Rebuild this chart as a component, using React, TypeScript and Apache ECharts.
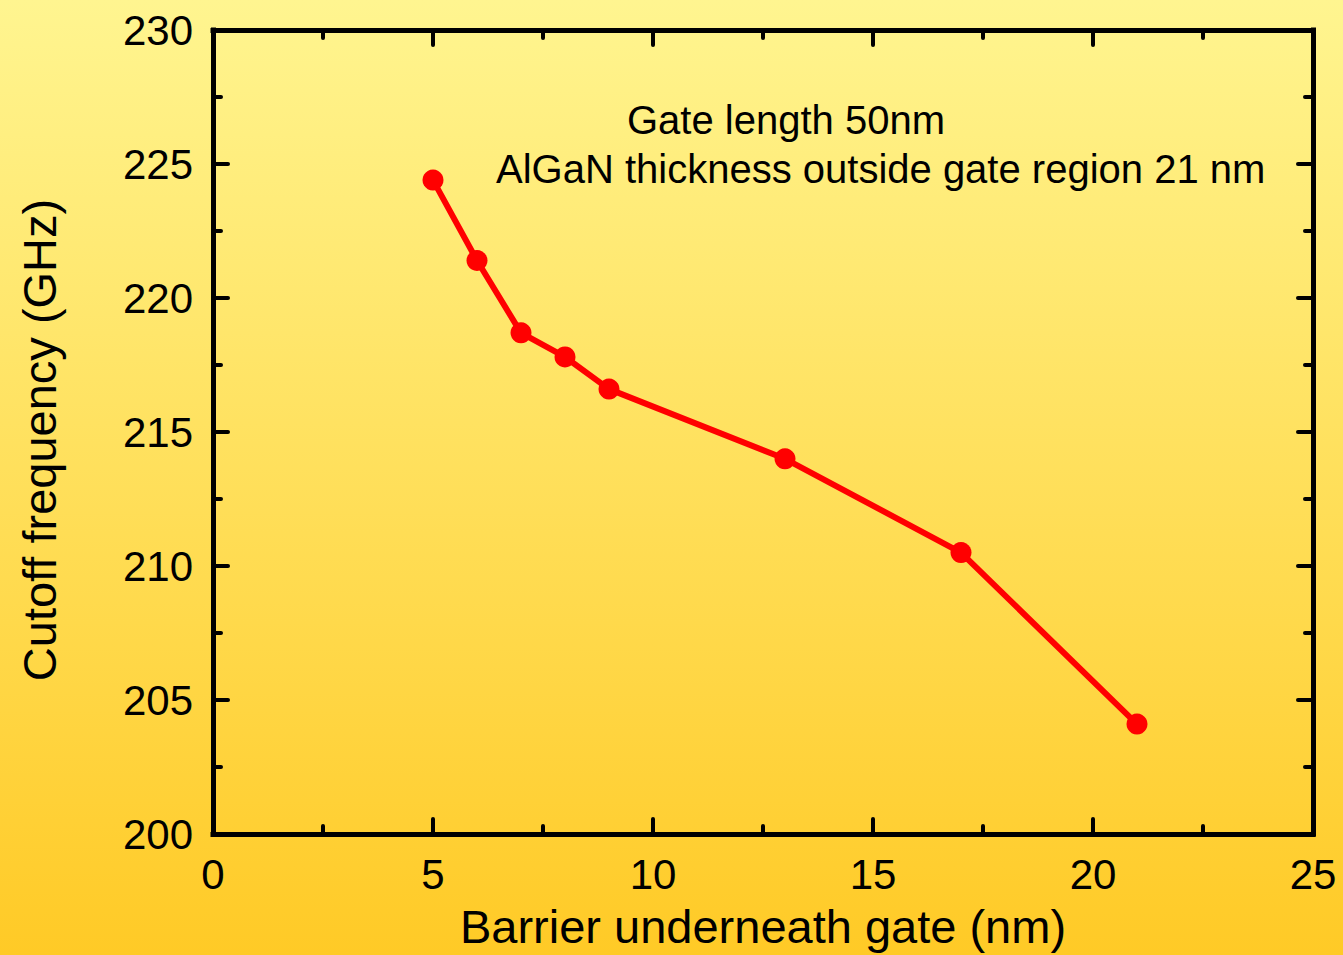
import React, { useEffect, useRef } from "react";
import * as echarts from "echarts";

const barrierNm = [5, 6, 7, 8, 9, 13, 17, 21];
const cutoffGHz = [224.4, 221.4, 218.7, 217.8, 216.6, 214.0, 210.5, 204.1];
const xTitle = "Barrier underneath gate (nm)";
const yTitle = "Cutoff frequency (GHz)";
const note1 = "Gate length 50nm";
const note2 = "AlGaN thickness outside gate region 21 nm";

const FONT = "'Liberation Sans', Arial, sans-serif";

export default function App() {
  const ref = useRef<HTMLDivElement>(null);
  useEffect(() => {
    if (!ref.current) return;
    const chart = echarts.init(ref.current, undefined, { renderer: "svg" });
    const axisLine = { show: true, onZero: false, lineStyle: { color: "#000", width: 5, cap: "square" } };
    const tick = { show: true, inside: true, length: 15, lineStyle: { color: "#000", width: 4, cap: "round" } };
    const minor = { show: true, splitNumber: 2, length: 8, lineStyle: { color: "#000", width: 4, cap: "round" } };
    const lbl = { color: "#000", fontSize: 42, fontFamily: FONT };
    chart.setOption({
      animation: false,
      backgroundColor: new echarts.graphic.LinearGradient(0, 0, 0, 1, [
        { offset: 0, color: "#FFF590" },
        { offset: 1, color: "#FFCA26" },
      ]),
      grid: { left: 213, right: 30, top: 30, bottom: 118, containLabel: false },
      xAxis: [
        {
          type: "value", min: 0, max: 25, interval: 5, position: "bottom",
          axisLine, axisTick: tick, minorTick: minor, splitLine: { show: false },
          axisLabel: { ...lbl, margin: 19 },
          name: xTitle, nameLocation: "middle", nameGap: 69,
          nameTextStyle: { color: "#000", fontSize: 47, fontFamily: FONT },
        },
        {
          type: "value", min: 0, max: 25, interval: 5, position: "top",
          axisLine, axisTick: tick, minorTick: minor, splitLine: { show: false },
          axisLabel: { show: false },
        },
      ],
      yAxis: [
        {
          type: "value", min: 200, max: 230, interval: 5, position: "left",
          axisLine, axisTick: tick, minorTick: minor, splitLine: { show: false },
          axisLabel: { ...lbl, margin: 20 },
          name: yTitle, nameLocation: "middle", nameGap: 150, nameRotate: 90,
          nameTextStyle: { color: "#000", fontSize: 47, fontFamily: FONT, padding: [0, 16, 0, 0] },
        },
        {
          type: "value", min: 200, max: 230, interval: 5, position: "right",
          axisLine, axisTick: tick, minorTick: minor, splitLine: { show: false },
          axisLabel: { show: false },
        },
      ],
      graphic: [
        { type: "text", left: 627, top: 100, style: { text: note1, fill: "#000", fontSize: 40, fontFamily: FONT } },
        { type: "text", left: 496, top: 149, style: { text: note2, fill: "#000", fontSize: 40, fontFamily: FONT } },
      ],
      series: [
        {
          type: "line",
          data: barrierNm.map((x, i) => [x, cutoffGHz[i]]),
          symbol: "circle",
          symbolSize: 21,
          lineStyle: { color: "#FF0000", width: 6 },
          itemStyle: { color: "#FF0000" },
          z: 3,
        },
      ],
    });
    return () => chart.dispose();
  }, []);
  return <div ref={ref} style={{ width: 1343, height: 955, position: "absolute", left: 0, top: 0 }} />;
}
